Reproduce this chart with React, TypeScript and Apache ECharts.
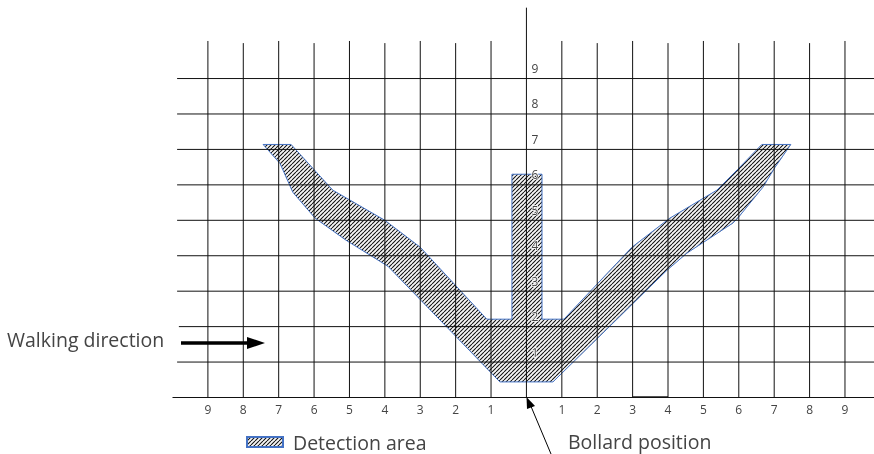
import React, { useEffect, useRef } from "react";
import * as echarts from "echarts";

const xTicks = [-9, -8, -7, -6, -5, -4, -3, -2, -1, 1, 2, 3, 4, 5, 6, 7, 8, 9];
const yTicks = [1, 2, 3, 4, 5, 6, 7, 8, 9];
const detectionArea = [
  [-7.44, 7.14], [-6.65, 7.14], [-5.47, 5.85], [-4.0, 5.0], [-3.0, 4.24], [-1.12, 2.21],
  [-0.41, 2.21], [-0.41, 6.3], [0.44, 6.3], [0.44, 2.21], [1.06, 2.21], [2.98, 4.24],
  [4.05, 5.06], [5.38, 5.85], [5.97, 6.44], [6.65, 7.14], [7.47, 7.14], [7.02, 6.49],
  [6.68, 5.93], [5.97, 5.06], [5.83, 4.92], [4.53, 4.07], [3.97, 3.59], [0.75, 0.44],
  [-0.75, 0.44], [-3.91, 3.7], [-5.1, 4.44], [-5.97, 5.06], [-6.6, 5.79], [-6.96, 6.6],
];

function hatch() {
  const c = document.createElement("canvas");
  c.width = 4;
  c.height = 4;
  const g = c.getContext("2d")!;
  g.fillStyle = "#f6f6f6";
  g.fillRect(0, 0, 4, 4);
  g.strokeStyle = "#111";
  g.lineWidth = 1.05;
  g.beginPath();
  for (let i = -4; i <= 8; i += 4) {
    g.moveTo(i, 4);
    g.lineTo(i + 4, 0);
  }
  g.stroke();
  return c;
}

export default function App() {
  const ref = useRef<HTMLDivElement>(null);
  useEffect(() => {
    const chart = echarts.init(ref.current!, undefined, { renderer: "svg" });
    const font = "Open Sans";
    const pattern = { image: hatch(), repeat: "repeat" };
    const gridLines = [
      ...xTicks.map((x) => [x, 0, x, x % 2 === 0 ? 10 : 10.06]),
      ...yTicks.map((y) => [y === 2 ? -9.82 : -9.87, y, 9.82, y]),
      [-10, 0, 9.82, 0],
      [0, 0, 0, 11],
      [3, 0.02, 4, 0.02],
    ];
    chart.setOption({
      animation: false,
      grid: { left: 172.5, top: 7.66, width: 701.5, height: 389.84 },
      xAxis: {
        type: "value", min: -10, max: 9.82, interval: 1,
        axisLine: { show: false }, axisTick: { show: false }, splitLine: { show: false },
        axisLabel: {
          color: "#444", fontSize: 12, fontFamily: font, margin: 6,
          showMaxLabel: false,
          formatter: (v: number) => (xTicks.includes(v) ? String(Math.abs(v)) : ""),
        },
      },
      yAxis: {
        type: "value", min: 0, max: 11, interval: 1, offset: -354, z: 6,
        axisLine: { show: false }, axisTick: { show: false }, splitLine: { show: false },
        axisLabel: {
          inside: true, color: "#444", fontSize: 12, fontFamily: font, margin: 5, verticalAlign: "bottom",
          padding: [0, 0, 4, 0],
          textBorderColor: "#fff", textBorderWidth: 1.5,
          formatter: (v: number) => (yTicks.includes(v) ? String(v) : ""),
        },
      },
      legend: {
        left: 241, top: 427, itemWidth: 36, itemHeight: 10, itemGap: 0, icon: "rect",
        data: ["Detection area"],
        textStyle: { fontSize: 19.5, lineHeight: 18, fontFamily: font, color: "#444", padding: [0, 0, 0, 5] },
      },
      series: [
        {
          name: "Detection area", type: "custom", z: 2, coordinateSystem: "cartesian2d",
          encode: { x: 0, y: 1 },
          data: detectionArea,
          itemStyle: { color: pattern, borderColor: "#4472c4", borderWidth: 0.8 },
          renderItem: (params: any, api: any) => {
            if (params.dataIndex !== 0) return null;
            return {
              type: "polygon",
              shape: { points: detectionArea.map((p) => api.coord(p)) },
              style: { fill: pattern, stroke: "#4472c4", lineWidth: 1 },
            };
          },
        },
        {
          name: "grid", type: "custom", z: 3, coordinateSystem: "cartesian2d", silent: true,
          encode: { x: [0, 2], y: [1, 3] },
          data: gridLines,
          renderItem: (_: any, api: any) => {
            const a = api.coord([api.value(0), api.value(1)]);
            const b = api.coord([api.value(2), api.value(3)]);
            return {
              type: "line",
              shape: { x1: a[0], y1: a[1], x2: b[0], y2: b[1] },
              style: { stroke: "#111", lineWidth: 1 },
            };
          },
        },
      ],
      graphic: [
        { type: "text", x: 7, y: 329, z: 10, style: { text: "Walking direction", font: `19.5px "${font}"`, fill: "#444" } },
        { type: "text", x: 568, y: 431, z: 10, style: { text: "Bollard position", font: `19.5px "${font}"`, fill: "#444" } },
        { type: "line", z: 10, shape: { x1: 181, y1: 343, x2: 248, y2: 343 }, style: { stroke: "#000", lineWidth: 3.5 } },
        { type: "polygon", z: 10, shape: { points: [[247, 337], [265, 343], [247, 349]] }, style: { fill: "#000" } },
        { type: "line", z: 10, shape: { x1: 530, y1: 404, x2: 551, y2: 454 }, style: { stroke: "#000", lineWidth: 1 } },
        { type: "polygon", z: 10, shape: { points: [[526.5, 397], [535, 406], [527, 409]] }, style: { fill: "#000" } },
      ],
    });
    return () => chart.dispose();
  }, []);
  return <div ref={ref} style={{ position: "fixed", left: 0, top: 0, width: 874, height: 454 }} />;
}
